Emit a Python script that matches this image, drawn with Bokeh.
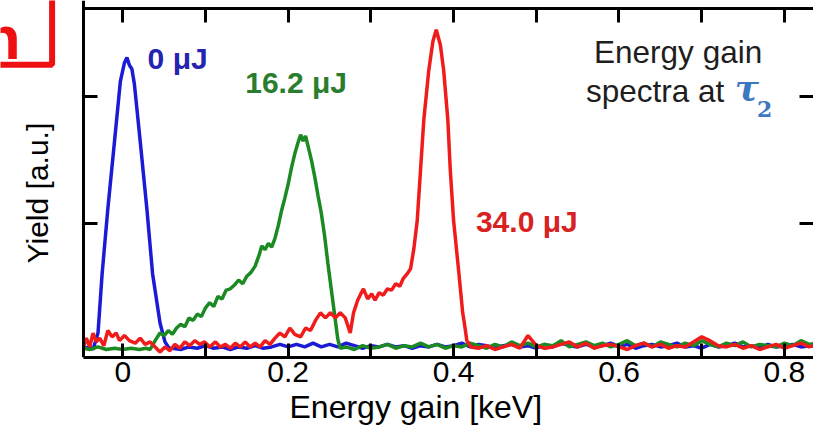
import math
from bokeh.plotting import figure
from bokeh.models import Range1d, FixedTicker, LinearAxis, Label, Title
from bokeh.embed import file_html
from bokeh.resources import INLINE

# ---------------- data (energy gain in keV, yield in a.u.) ----------------
blue_x = [-0.047, -0.040, -0.036, -0.030, -0.025, -0.018, -0.010, -0.003, 0.002,
          0.005, 0.008, 0.011, 0.014, 0.021, 0.029, 0.036, 0.045, 0.051, 0.056]
blue_y = [0.01, 0.02, 0.00, 0.13, 0.60, 1.12, 1.65, 2.12, 2.27,
          2.31, 2.25, 2.22, 2.10, 1.65, 1.12, 0.60, 0.21, 0.06, 0.01]

green_x = [-0.047, -0.040, -0.030, -0.020, -0.010, 0.000, 0.010, 0.020, 0.028,
           0.033, 0.040, 0.045, 0.050, 0.055, 0.060, 0.065, 0.070, 0.075, 0.080,
           0.085, 0.090, 0.095, 0.100, 0.105, 0.110, 0.115, 0.120, 0.125, 0.130,
           0.135, 0.140, 0.145, 0.150, 0.155, 0.160, 0.165, 0.168, 0.172, 0.176,
           0.180, 0.184, 0.188, 0.192, 0.196, 0.200, 0.204, 0.208, 0.212, 0.215,
           0.218, 0.221, 0.224, 0.228, 0.232, 0.236, 0.240, 0.244, 0.248, 0.252,
           0.256, 0.260, 0.263]
green_y = [0.01, 0.00, 0.02, 0.00, 0.01, 0.00, 0.01, 0.00, 0.01,
           0.00, 0.08, 0.13, 0.11, 0.15, 0.12, 0.17, 0.20, 0.18, 0.25,
           0.23, 0.28, 0.26, 0.33, 0.37, 0.34, 0.42, 0.40, 0.47, 0.48,
           0.51, 0.55, 0.52, 0.58, 0.61, 0.66, 0.75, 0.82, 0.79, 0.84,
           0.81, 0.88, 0.98, 1.10, 1.20, 1.31, 1.44, 1.55, 1.64, 1.70,
           1.65, 1.69, 1.61, 1.50, 1.37, 1.22, 1.08, 0.90, 0.68, 0.48,
           0.28, 0.08, 0.01]

red_x = [-0.047, -0.044, -0.040, -0.036, -0.032, -0.028, -0.023, -0.018, -0.013,
         -0.008, -0.004, 0.002, 0.008, 0.015, 0.021, 0.027, 0.033, 0.039, 0.045,
         0.051, 0.057, 0.063, 0.069, 0.075, 0.081, 0.087, 0.093, 0.099, 0.105,
         0.112, 0.118, 0.124, 0.130, 0.136, 0.142, 0.148, 0.154, 0.160, 0.166,
         0.172, 0.178, 0.184, 0.190, 0.196, 0.202, 0.208, 0.215, 0.221, 0.227,
         0.233, 0.239, 0.245, 0.251, 0.257, 0.263, 0.269, 0.275, 0.279, 0.284,
         0.287, 0.291, 0.296, 0.301, 0.305, 0.310, 0.315, 0.320, 0.325, 0.330,
         0.335, 0.339, 0.344, 0.348, 0.352, 0.356, 0.360, 0.364, 0.370, 0.375,
         0.379, 0.384, 0.388, 0.393, 0.396, 0.400, 0.406, 0.411, 0.413, 0.416,
         0.421]
red_y = [0.03, 0.09, 0.02, 0.13, 0.06, 0.09, 0.03, 0.15, 0.10,
         0.13, 0.07, 0.11, 0.07, 0.05, 0.09, 0.04, 0.06, 0.02, -0.02,
         0.02, -0.01, 0.04, 0.01, 0.06, 0.03, 0.07, 0.04, 0.06, 0.02,
         0.06, 0.02, 0.04, 0.01, 0.05, 0.02, 0.06, 0.02, 0.05, 0.02,
         0.07, 0.04, 0.09, 0.13, 0.10, 0.17, 0.12, 0.10, 0.17, 0.15,
         0.23, 0.29, 0.25, 0.29, 0.25, 0.29, 0.25, 0.13, 0.29, 0.39,
         0.43, 0.48, 0.40, 0.44, 0.39, 0.45, 0.43, 0.48, 0.47, 0.52,
         0.50, 0.56, 0.60, 0.64, 0.80, 1.02, 1.42, 1.82, 2.21, 2.44,
         2.53, 2.41, 2.21, 1.82, 1.42, 1.02, 0.63, 0.29, 0.21, 0.07,
         0.02]

# common energy grid of the flat tails (0.06 ... 0.84 keV)
base_x = [0.06, 0.07, 0.08, 0.09, 0.10, 0.11, 0.12, 0.13, 0.14, 0.15,
          0.16, 0.17, 0.18, 0.19, 0.20, 0.21, 0.22, 0.23, 0.24, 0.25,
          0.26, 0.27, 0.28, 0.29, 0.30, 0.31, 0.32, 0.33, 0.34, 0.35,
          0.36, 0.37, 0.38, 0.39, 0.40, 0.41, 0.42, 0.43, 0.44, 0.45,
          0.46, 0.47, 0.48, 0.49, 0.50, 0.51, 0.52, 0.53, 0.54, 0.55,
          0.56, 0.57, 0.58, 0.59, 0.60, 0.61, 0.62, 0.63, 0.64, 0.65,
          0.66, 0.67, 0.68, 0.69, 0.70, 0.71, 0.72, 0.73, 0.74, 0.75,
          0.76, 0.77, 0.78, 0.79, 0.80, 0.81, 0.82, 0.83, 0.84]
blue_tail = [0.01, 0.00, 0.02, 0.01, 0.03, 0.01, 0.02, 0.00, 0.02, 0.01,
             0.03, 0.01, 0.02, 0.04, 0.02, 0.04, 0.02, 0.05, 0.02, 0.04,
             0.02, 0.05, 0.03, 0.01, 0.03, 0.02, 0.04, 0.02, 0.03, 0.01,
             0.03, 0.02, 0.04, 0.02, 0.03, 0.05, 0.02, 0.04, 0.03, 0.01,
             0.03, 0.04, 0.02, 0.03, 0.01, 0.04, 0.02, 0.05, 0.03, 0.02,
             0.04, 0.02, 0.03, 0.05, 0.02, 0.04, 0.01, 0.03, 0.04, 0.02,
             0.03, 0.05, 0.02, 0.03, 0.01, 0.04, 0.02, 0.03, 0.05, 0.02,
             0.03, 0.01, 0.04, 0.02, 0.03, 0.04, 0.02, 0.03, 0.02]
green_tail = [0.02, 0.00, 0.03, 0.01, 0.02, 0.04, 0.01, 0.03, 0.02, 0.05,
              0.02, 0.04, 0.01, 0.03, 0.02, 0.05, 0.03, 0.01, 0.04, 0.02,
              0.06, 0.03, 0.05, 0.02, 0.04, 0.03, 0.07, 0.02, 0.04, 0.06,
              0.03, 0.05, 0.02, 0.04, 0.07, 0.03, 0.05, 0.02, 0.06, 0.04,
              0.02, 0.05, 0.03, 0.07, 0.04, 0.02, 0.05, 0.03, 0.06, 0.02,
              0.04, 0.03, 0.02, 0.05, 0.03, 0.07, 0.04, 0.05]
red_tail = [0.01, 0.03, 0.00, 0.02, 0.04, 0.01, 0.11, 0.03, 0.01, 0.02,
            0.04, 0.06, 0.02, 0.05, 0.01, 0.03, 0.04, 0.02, 0.00, 0.03,
            0.05, 0.02, 0.04, 0.01, 0.03, 0.02, 0.06, 0.10, 0.07, 0.03,
            0.02, 0.04, 0.01, 0.03, 0.00, 0.02, 0.04, 0.01, 0.03, 0.05,
            0.02, 0.04]

x_ticks = [0.0, 0.2, 0.4, 0.6, 0.8]
x_tick_labels = ["0", "0.2", "0.4", "0.6", "0.8"]
x_minor = [0.1, 0.3, 0.5, 0.7]
y_ticks = [1, 2]

series = [
    ("0 μJ", blue_x + base_x, blue_y + blue_tail, "#1b1bd6"),
    ("16.2 μJ", green_x + base_x[len(base_x) - len(green_tail):], green_y + green_tail, "#1c8a22"),
    ("34.0 μJ", red_x + base_x[len(base_x) - len(red_tail):], red_y + red_tail, "#f01c1c"),
]

# axis box limits (data units)
X0, X1 = -0.0473, 0.8352
Y0, Y1 = -0.0635, 2.698

# ---------------- figure ----------------
p = figure(width=813, height=437,
           x_range=Range1d(-0.1479, X1), y_range=Range1d(Y0, 2.762),
           output_backend="svg", toolbar_location=None,
           x_axis_location=None, y_axis_location=None,
           min_border_left=0, min_border_right=0, min_border_top=0, min_border_bottom=80)
p.outline_line_color = None
p.grid.visible = False
p.background_fill_color = "white"
p.border_fill_color = "white"

FONT = "Liberation Sans"


def style_axis(ax):
    ax.axis_line_width = 3
    ax.axis_line_color = "black"
    ax.major_tick_line_width = 3
    ax.minor_tick_line_width = 3
    ax.major_tick_line_color = "black"
    ax.minor_tick_line_color = "black"
    ax.major_tick_in = 14
    ax.major_tick_out = 0
    ax.minor_tick_in = 14
    ax.minor_tick_out = 0


def blank_axis(ticks, minor):
    return LinearAxis(ticker=FixedTicker(ticks=ticks, minor_ticks=minor),
                      major_label_overrides={t: "" for t in ticks},
                      major_label_text_font_size="1px", major_label_standoff=0)


below = LinearAxis(ticker=FixedTicker(ticks=x_ticks, minor_ticks=x_minor),
                   major_label_overrides=dict(zip(x_ticks, x_tick_labels)),
                   major_label_text_font=FONT, major_label_text_font_size="30px",
                   major_label_text_color="black", major_label_standoff=4,
                   bounds=(X0, X1))
above = blank_axis(x_ticks, x_minor)
above.fixed_location = Y1
above.bounds = (X0, X1)
left = blank_axis(y_ticks, [])
left.fixed_location = X0
right = blank_axis(y_ticks, [])
for ax in (below, above, left, right):
    style_axis(ax)
right.axis_line_color = None
p.add_layout(below, "below")
p.add_layout(above, "above")
p.add_layout(left, "left")
p.add_layout(right, "right")

for name, xs, ys, col in series:
    p.line(xs, ys, line_color=col, line_width=3.5)

# curve annotations
ann = [("0 μJ", 0.030, 2.17, "#2424b0"),
       ("16.2 μJ", 0.148, 1.98, "#2a7d2e"),
       ("34.0 μJ", 0.427, 0.88, "#d82222")]
for t, x, y, c in ann:
    p.add_layout(Label(x=x, y=y, text=t, text_font=FONT, text_font_style="bold",
                       text_font_size="30px", text_color=c))

p.add_layout(Label(x=0.6715, y=2.214, text="Energy gain", text_font=FONT,
                   text_font_size="31.5px", text_color="#1e1e1e", text_align="center"))
p.add_layout(Label(x=0.560, y=1.90, text="spectra at", text_font=FONT,
                   text_font_size="31.5px", text_color="#1e1e1e"))
p.add_layout(Label(x=0.740, y=1.913, text="τ", text_font="DejaVu Serif",
                   text_font_style="bold italic", text_font_size="36px", text_color="#3b78c2"))
p.add_layout(Label(x=0.767, y=1.841, text="2", text_font="DejaVu Serif",
                   text_font_style="bold", text_font_size="22px", text_color="#3b78c2"))

# y-axis title
p.add_layout(Label(x=-0.103, y=1.238, text="Yield [a.u.]", text_font=FONT,
                   text_font_size="30px", text_color="black", text_align="center",
                   text_baseline="middle", angle=math.pi / 2))

# x-axis title (off-centre, as in the reference)
p.add_layout(Title(text="Energy gain [keV]", align="left", offset=289, standoff=4,
                   text_font=FONT, text_font_size="32px", text_font_style="normal",
                   text_color="black"), "below")

# panel label (partly outside the page): red frame, then the letter
p.add_layout(Label(x=-0.0855, y=2.254, text="hh",
                   text_font=FONT, text_font_size="80px",
                   text_color="white", text_alpha=0.01, text_align="right",
                   text_baseline="bottom",
                   border_line_color="#ee1111", border_line_width=6))
p.add_layout(Label(x=-0.1236, y=2.468, text="h",
                   text_font=FONT, text_font_style="bold",
                   text_font_size="62px", text_color="#ee1111", text_align="right",
                   text_baseline="alphabetic"))

open("out.html", "w").write(file_html(p, INLINE))
